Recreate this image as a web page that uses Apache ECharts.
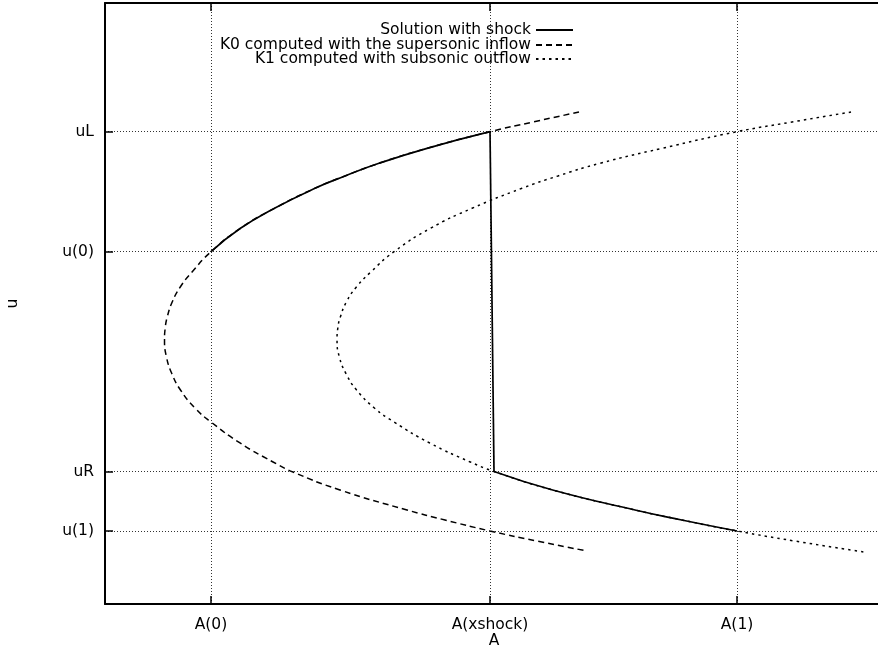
<!DOCTYPE html>
<html>
<head>
<meta charset="utf-8">
<script src="https://cdn.jsdelivr.net/npm/echarts@6/dist/echarts.min.js"></script>
<style>
html,body{margin:0;padding:0;background:#fff;}
#chart{width:878px;height:654px;}
</style>
</head>
<body>
<div id="chart"></div>
<script>
// Tick positions and labels
const xTickValues = [1.090, 3.959, 6.499];
const xTickLabels = ['A(0)', 'A(xshock)', 'A(1)'];
const yTickValues = [1.215, 2.205, 5.862, 7.859];
const yTickLabels = ['u(1)', 'uR', 'u(0)', 'uL'];

// K0 computed with the supersonic inflow (A, u)
const k0Curve = [
  [4.874, 8.186], [4.401, 8.020], [3.959, 7.859], [3.311, 7.582], [2.817, 7.333],
  [2.468, 7.122], [2.159, 6.917], [1.743, 6.584], [1.393, 6.251], [1.090, 5.862],
  [0.895, 5.524], [0.774, 5.275], [0.691, 5.025], [0.640, 4.775], [0.619, 4.592],
  [0.612, 4.393], [0.632, 4.110], [0.689, 3.827], [0.776, 3.561], [0.925, 3.261],
  [1.090, 3.028], [1.388, 2.679], [1.728, 2.363], [1.933, 2.196], [2.416, 1.897],
  [3.105, 1.564], [3.496, 1.398], [3.959, 1.215], [4.442, 1.048], [4.956, 0.882]
];
// K1 computed with subsonic outflow (A, u)
const k1Curve = [
  [7.671, 8.186], [7.064, 8.020], [6.499, 7.859], [5.728, 7.582], [5.090, 7.333],
  [4.658, 7.122], [4.288, 6.917], [3.774, 6.584], [3.347, 6.251], [2.972, 5.862],
  [2.733, 5.524], [2.585, 5.275], [2.482, 5.025], [2.420, 4.775], [2.394, 4.592],
  [2.386, 4.393], [2.410, 4.110], [2.480, 3.827], [2.587, 3.561], [2.770, 3.261],
  [2.973, 3.028], [3.339, 2.679], [3.756, 2.363], [4.000, 2.205], [4.603, 1.897],
  [5.450, 1.564], [5.930, 1.398], [6.499, 1.215], [7.092, 1.048], [7.805, 0.865]
];
// Solution with shock: supersonic branch, shock, subsonic branch
const solUpper = [
  [1.090, 5.862], [1.393, 6.251], [1.743, 6.584], [2.159, 6.917], [2.468, 7.122],
  [2.817, 7.333], [3.311, 7.582], [3.959, 7.859]
];
const solShock = [[3.959, 7.859], [4.000, 2.205]];
const solLower = [
  [4.000, 2.205], [4.603, 1.897], [5.450, 1.564], [5.930, 1.398], [6.499, 1.215]
];

const FONT = 'DejaVu Sans';
function labelFor(values, labels) {
  return function (v) {
    let best = 0, bd = Infinity;
    values.forEach((t, i) => { const d = Math.abs(t - v); if (d < bd) { bd = d; best = i; } });
    return bd < 1e-3 ? labels[best] : '';
  };
}

const chart = echarts.init(document.getElementById('chart'), null, {renderer: 'canvas'});
const legendCommon = {
  orient: 'horizontal', align: 'right', right: 304, padding: 0,
  itemWidth: 37, itemHeight: 12, selectedMode: false,
  itemStyle: {opacity: 0, borderWidth: 0},
  textStyle: {fontFamily: FONT, fontSize: 15.5, color: '#000'}
};
chart.setOption({
  animation: false,
  backgroundColor: '#fff',
  grid: {left: 105, top: 3, right: -5, bottom: 50, outerBoundsMode: 'none', containLabel: false},
  legend: [
    Object.assign({}, legendCommon, {top: 22, data: ['Solution with shock']}),
    Object.assign({}, legendCommon, {top: 37, data: ['K0 computed with the supersonic inflow']}),
    Object.assign({}, legendCommon, {top: 51, data: ['K1 computed with subsonic outflow']})
  ],
  xAxis: [
    {
      type: 'value', min: 0, max: 8, position: 'bottom',
      name: 'A', nameLocation: 'middle', nameGap: 29, nameMoveOverlap: false,
      nameTextStyle: {fontFamily: FONT, fontSize: 15.5, color: '#000'},
      axisLine: {show: true, onZero: false, lineStyle: {color: '#000', width: 2}},
      axisTick: {show: true, inside: true, length: 8, customValues: xTickValues, lineStyle: {color: '#000', width: 1.5}},
      axisLabel: {show: true, customValues: xTickValues, formatter: labelFor(xTickValues, xTickLabels), margin: 13,
        fontFamily: FONT, fontSize: 15.5, color: '#000'},
      splitLine: {show: true, lineStyle: {color: '#333', width: 1, type: [1, 2]}}
    },
    {
      type: 'value', min: 0, max: 8, position: 'top',
      axisLine: {show: true, onZero: false, lineStyle: {color: '#000', width: 2}},
      axisTick: {show: true, inside: true, length: 8, customValues: xTickValues, lineStyle: {color: '#000', width: 1.5}},
      axisLabel: {show: false},
      splitLine: {show: false}
    }
  ],
  yAxis: [
    {
      type: 'value', min: 0, max: 10, position: 'left',
      name: 'u', nameLocation: 'middle', nameGap: 84, nameMoveOverlap: false,
      nameTextStyle: {fontFamily: FONT, fontSize: 15.5, color: '#000'},
      axisLine: {show: true, onZero: false, lineStyle: {color: '#000', width: 2}},
      axisTick: {show: true, inside: true, length: 8, customValues: yTickValues, lineStyle: {color: '#000', width: 1.5}},
      axisLabel: {show: true, customValues: yTickValues, formatter: labelFor(yTickValues, yTickLabels), margin: 11,
        fontFamily: FONT, fontSize: 15.5, color: '#000'},
      splitLine: {show: true, lineStyle: {color: '#333', width: 1, type: [1, 2]}}
    }
  ],
  series: [
    {name: 'K0 computed with the supersonic inflow', type: 'line', data: k0Curve, symbol: 'none', smooth: 0.5,
      lineStyle: {color: '#000', width: 1.5, type: [6, 4]}, itemStyle: {color: '#000'}, z: 3},
    {name: 'K1 computed with subsonic outflow', type: 'line', data: k1Curve, symbol: 'none', smooth: 0.5,
      lineStyle: {color: '#000', width: 1.5, type: [2.5, 4]}, itemStyle: {color: '#000'}, z: 3},
    {name: 'Solution with shock', type: 'line', data: solUpper, symbol: 'none', smooth: 0.5,
      lineStyle: {color: '#000', width: 1.7}, itemStyle: {color: '#000'}, z: 4},
    {name: 'Solution with shock', type: 'line', data: solShock, symbol: 'none',
      lineStyle: {color: '#000', width: 1.7}, itemStyle: {color: '#000'}, z: 4},
    {name: 'Solution with shock', type: 'line', data: solLower, symbol: 'none', smooth: 0.5,
      lineStyle: {color: '#000', width: 1.7}, itemStyle: {color: '#000'}, z: 4}
  ]
});
</script>
</body>
</html>
